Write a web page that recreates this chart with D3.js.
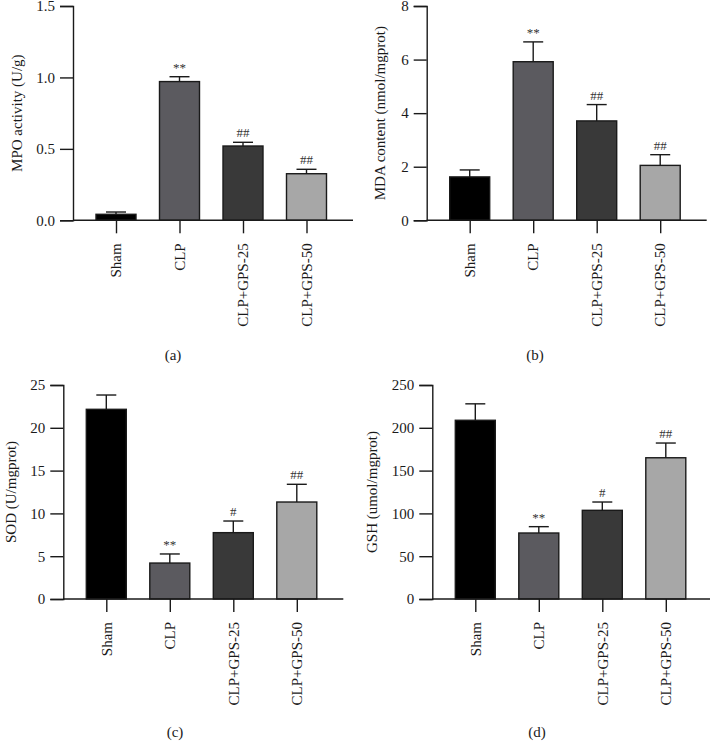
<!DOCTYPE html>
<html><head><meta charset="utf-8">
<script src="https://cdn.jsdelivr.net/npm/d3@7"></script>
<style>
body{margin:0;background:#fff;}
svg text{font-family:"Liberation Serif","DejaVu Serif",serif;fill:#1a1a1a;}
</style></head>
<body><svg id="c" width="710" height="741"></svg>
<script>
const groups = ["Sham", "CLP", "CLP+GPS-25", "CLP+GPS-50"];
const colors = ["#000000", "#5b5a5f", "#393939", "#a7a7a7"];

const mpoMean = [0.042, 0.971, 0.52, 0.326];
const mpoErr  = [0.016, 0.034, 0.026, 0.031];
const mpoSig  = ["", "**", "##", "##"];
const mpoTicks = [0, 0.5, 1.0, 1.5];

const mdaMean = [1.62, 5.92, 3.71, 2.05];
const mdaErr  = [0.26, 0.74, 0.61, 0.40];
const mdaSig  = ["", "**", "##", "##"];
const mdaTicks = [0, 2, 4, 6, 8];

const sodMean = [22.16, 4.2, 7.75, 11.33];
const sodErr  = [1.67, 1.06, 1.36, 2.07];
const sodSig  = ["", "**", "#", "##"];
const sodTicks = [0, 5, 10, 15, 20, 25];

const gshMean = [208.8, 77.1, 103.6, 165.0];
const gshErr  = [19.2, 7.4, 9.7, 17.2];
const gshSig  = ["", "**", "#", "##"];
const gshTicks = [0, 50, 100, 150, 200, 250];

const panels = [
  {mean: mpoMean, err: mpoErr, sig: mpoSig, ticks: mpoTicks, fmt: d3.format(".1f"), max: 1.5,
   title: "MPO activity (U/g)", tag: "(a)", ax: 73, top: 6, bottom: 220.3, titleX: 17, tagX: 173, tagY: 360},
  {mean: mdaMean, err: mdaErr, sig: mdaSig, ticks: mdaTicks, fmt: d3.format("d"), max: 8,
   title: "MDA content (nmol/mgprot)", tag: "(b)", ax: 426.7, top: 6, bottom: 220.3, titleX: 380, tagX: 535, tagY: 360},
  {mean: sodMean, err: sodErr, sig: sodSig, ticks: sodTicks, fmt: d3.format("d"), max: 25,
   title: "SOD (U/mgprot)", tag: "(c)", ax: 63.3, top: 385, bottom: 599, titleX: 11, tagX: 175, tagY: 737},
  {mean: gshMean, err: gshErr, sig: gshSig, ticks: gshTicks, fmt: d3.format("d"), max: 250,
   title: "GSH (umol/mgprot)", tag: "(d)", ax: 432.3, top: 385, bottom: 599, titleX: 372, tagX: 537, tagY: 737}
];

const svg = d3.select("#c");
const barW = 40, capW = 20;

panels.forEach(p => {
  const g = svg.append("g");
  const y = d3.scaleLinear().domain([0, p.max]).range([p.bottom, p.top]);
  const x = d3.scalePoint().domain(groups).range([p.ax + 43, p.ax + 43 + 190.5]);
  const axisEnd = p.ax + 280;

  // bars
  g.selectAll("rect.bar").data(groups).join("rect")
    .attr("x", d => x(d) - barW / 2)
    .attr("y", (d, i) => y(p.mean[i]))
    .attr("width", barW)
    .attr("height", (d, i) => y(0) - y(p.mean[i]))
    .attr("fill", (d, i) => colors[i])
    .attr("stroke", "#1a1a1a").attr("stroke-width", 1.4);

  // error bars
  groups.forEach((d, i) => {
    const yt = y(p.mean[i] + p.err[i]);
    g.append("line").attr("x1", x(d)).attr("x2", x(d))
      .attr("y1", y(p.mean[i])).attr("y2", yt)
      .attr("stroke", "#1a1a1a").attr("stroke-width", 1.4);
    g.append("line").attr("x1", x(d) - capW / 2).attr("x2", x(d) + capW / 2)
      .attr("y1", yt).attr("y2", yt)
      .attr("stroke", "#1a1a1a").attr("stroke-width", 1.4);
    if (p.sig[i]) {
      g.append("text").attr("x", x(d)).attr("y", yt - 5)
        .attr("text-anchor", "middle").attr("font-size", 13)
        .style("fill", "#333").text(p.sig[i]);
    }
  });

  // y axis
  const ya = d3.axisLeft(y).tickValues(p.ticks).tickFormat(p.fmt).tickSize(13).tickPadding(5);
  const yg = g.append("g").attr("transform", `translate(${p.ax},0)`).call(ya);
  yg.select(".domain").attr("stroke", "#1a1a1a").attr("stroke-width", 1.4);
  yg.selectAll(".tick line").attr("stroke", "#1a1a1a").attr("stroke-width", 1.4);
  yg.selectAll(".tick text").attr("font-size", 15).style("font-family", '"Liberation Serif",serif').attr("fill", "#1a1a1a");

  // x axis
  const xa = d3.axisBottom(x).tickSize(13).tickSizeOuter(0).tickFormat("");
  const xg = g.append("g").attr("transform", `translate(0,${p.bottom})`).call(xa);
  xg.select(".domain").attr("d", `M${p.ax},0H${axisEnd}`).attr("stroke", "#1a1a1a").attr("stroke-width", 1.4);
  xg.selectAll(".tick line").attr("stroke", "#1a1a1a").attr("stroke-width", 1.4);

  // rotated category labels
  groups.forEach(d => {
    g.append("text")
      .attr("transform", `translate(${x(d)},${p.bottom + 23}) rotate(-90)`)
      .attr("text-anchor", "end").attr("dy", "0.35em")
      .attr("font-size", 15).text(d);
  });

  // y title
  g.append("text")
    .attr("transform", `translate(${p.titleX},${(p.top + p.bottom) / 2}) rotate(-90)`)
    .attr("text-anchor", "middle").attr("dy", "0.35em")
    .attr("font-size", 15).text(p.title);

  // panel tag
  g.append("text").attr("x", p.tagX).attr("y", p.tagY)
    .attr("text-anchor", "middle").attr("font-size", 15).text(p.tag);
});
</script></body></html>
